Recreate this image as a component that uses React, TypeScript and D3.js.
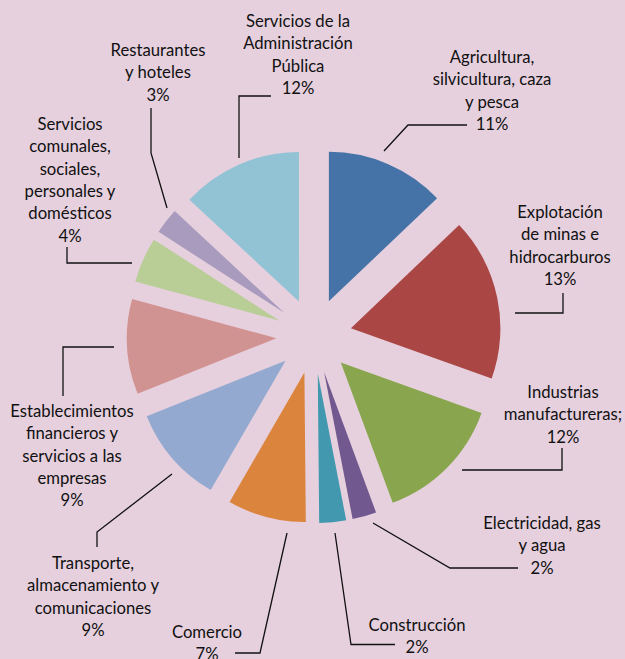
import React from "react";
import * as d3 from "d3";

// Sector names (label lines) and their printed percentages
const sectorLines: string[][] = [
  ["Agricultura,", "silvicultura, caza", "y pesca"],
  ["Explotación", "de minas e", "hidrocarburos"],
  ["Industrias", "manufactureras;"],
  ["Electricidad, gas", "y agua"],
  ["Construcción"],
  ["Comercio"],
  ["Transporte,", "almacenamiento y", "comunicaciones"],
  ["Establecimientos", "financieros y", "servicios a las", "empresas"],
  ["Servicios", "comunales,", "sociales,", "personales y", "domésticos"],
  ["Restaurantes", "y hoteles"],
  ["Servicios de la", "Administración", "Pública"],
];
const percentLabels: string[] = ["11%", "13%", "12%", "2%", "2%", "7%", "9%", "9%", "4%", "3%", "12%"];
// Slice shares
const sliceShares: number[] = [12.9, 17.6, 13.9, 2.6, 2.9, 8.5, 10.6, 10.3, 4.9, 2.8, 13.1];
const sliceColors: string[] = [
  "#4572A7", "#AA4643", "#89A54E", "#71588F", "#4198AF", "#DB843D",
  "#93A9CF", "#D19392", "#B9CD96", "#A99BBD", "#92C3D5",
];

// Annotation layout (label centres and leader polylines)
const labelLayout: { x: number; y: number; leader: [number, number][] }[] = [
  { x: 492, y: 57, leader: [[384, 151], [408, 125], [467, 125]] },
  { x: 560, y: 212, leader: [[515, 313], [563, 313], [563, 293]] },
  { x: 563, y: 392, leader: [[462, 470], [562, 470], [562, 448]] },
  { x: 542, y: 523, leader: [[373, 523], [450, 568], [518, 568]] },
  { x: 417, y: 625, leader: [[335, 533], [351, 644.5], [395, 644.5]] },
  { x: 207, y: 632, leader: [[287, 533], [260, 653], [235, 653]] },
  { x: 93, y: 563, leader: [[172, 474], [97, 532], [97, 547]] },
  { x: 72, y: 411, leader: [[114, 347], [63, 347], [63, 396]] },
  { x: 70, y: 124, leader: [[132, 263], [67, 263], [67, 247]] },
  { x: 158, y: 50, leader: [[167, 208], [151, 153], [151, 108]] },
  { x: 298, y: 21, leader: [[239, 158], [239, 96], [271, 96]] },
];

const W = 625;
const H = 659;
const CX = 314;
const CY = 336;
const R = 149.5;
const EXPLODE = 37.7;
const LINE_H = 22.4;

export default function App() {
  const pie = d3.pie<number>().sort(null).value((d) => d);
  const arcs = pie(sliceShares);
  const arcGen = d3.arc<d3.PieArcDatum<number>>().innerRadius(0).outerRadius(R);
  const line = d3.line<[number, number]>();

  return (
    <svg
      width={W}
      height={H}
      style={{ position: "absolute", left: 0, top: 0, display: "block" }}
      fontFamily="Lato, 'Open Sans', sans-serif"
    >
      <rect width={W} height={H} fill="#E6D0DE" />
      <g transform={`translate(${CX},${CY})`}>
        {arcs.map((a, i) => {
          const mid = (a.startAngle + a.endAngle) / 2;
          const dx = Math.sin(mid) * EXPLODE;
          const dy = -Math.cos(mid) * EXPLODE;
          return (
            <path
              key={i}
              d={arcGen(a) || ""}
              transform={`translate(${dx},${dy})`}
              fill={sliceColors[i]}
            />
          );
        })}
      </g>
      {labelLayout.map((l, i) => (
        <path key={"l" + i} d={line(l.leader) || ""} fill="none" stroke="#111" strokeWidth={1.3} />
      ))}
      {labelLayout.map((l, i) => {
        const lines = [...sectorLines[i], percentLabels[i]];
        return (
          <text key={"t" + i} textAnchor="middle" fontSize={16.7} fill="#111">
            {lines.map((s, j) => (
              <tspan key={j} x={l.x} y={l.y + j * LINE_H} dy="0.35em">
                {s}
              </tspan>
            ))}
          </text>
        );
      })}
    </svg>
  );
}
